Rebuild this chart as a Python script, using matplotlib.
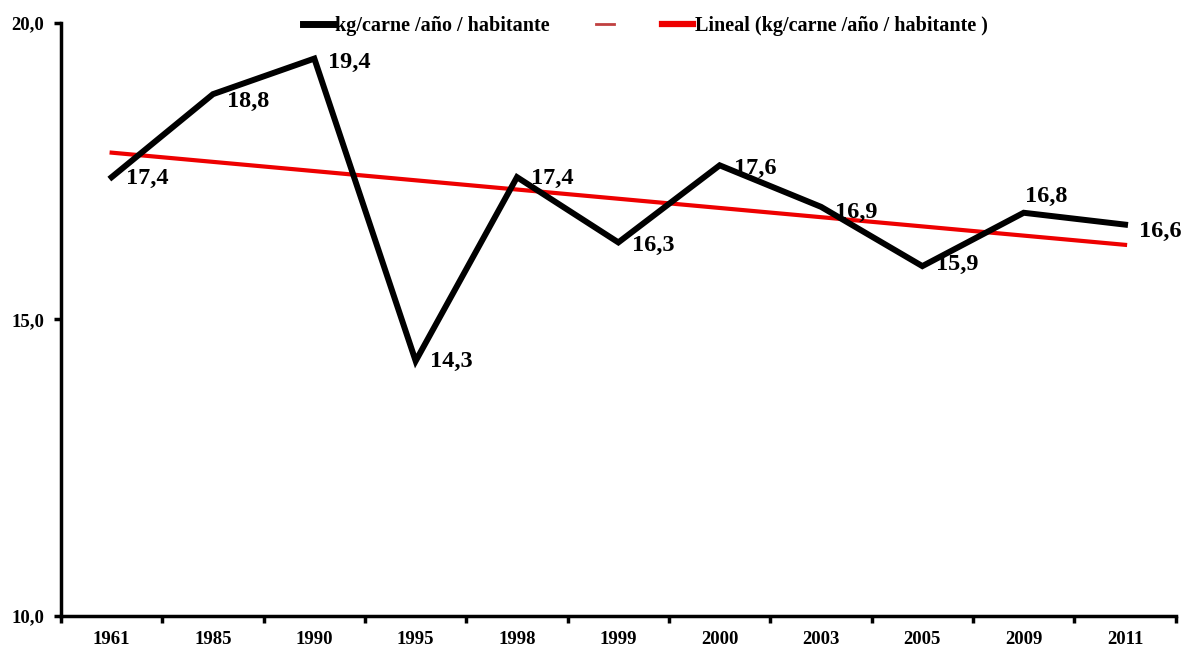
import numpy as np
import matplotlib.pyplot as plt
from matplotlib.lines import Line2D
from matplotlib.legend_handler import HandlerLine2D

# data
years = ['1961', '1985', '1990', '1995', '1998', '1999', '2000', '2003', '2005', '2009', '2011']
kg_carne = [17.4, 18.8, 19.4, 14.3, 17.4, 16.3, 17.6, 16.9, 15.9, 16.8, 16.6]
y_ticks = [10, 15, 20]

# label offsets in points (style only)
label_offsets = [(10, -1), (10, -5), (10, -3), (10, 0), (10, -1), (10, -2),
                 (10, -2), (10, -4), (10, 1), (1, 12), (10, -5)]

plt.rcParams['font.family'] = ['Liberation Serif', 'DejaVu Serif']
plt.rcParams['font.weight'] = 'bold'


class ShortLine(HandlerLine2D):
    # draws a shorter handle for the unlabeled legend entry
    def create_artists(self, legend, orig_handle, xdescent, ydescent,
                       width, height, fontsize, trans):
        return super().create_artists(legend, orig_handle, xdescent - width * 0.2,
                                      ydescent, width * 0.6, height, fontsize, trans)


fig = plt.figure(figsize=(11.84, 6.48), dpi=100)
ax = fig.add_axes([0.0515, 0.0494, 0.9415, 0.9151])

x = np.arange(1, len(years) + 1)
ax.plot(x, kg_carne, color='black', lw=4.3, solid_joinstyle='miter', zorder=3)

# linear trend
coef = np.polyfit(x, kg_carne, 1)
ax.plot(x, np.polyval(coef, x), color='#ee0000', lw=3, zorder=2)

for xi, v, off in zip(x, kg_carne, label_offsets):
    ax.annotate(f'{v:.1f}'.replace('.', ','), (xi, v), xytext=off,
                textcoords='offset points', fontsize=17.5, fontweight='bold',
                ha='left', va='center', zorder=4)

ax.set_xlim(0.5, len(years) + 0.5)
ax.set_ylim(10, 20)
ax.set_yticks(y_ticks)
ax.set_yticklabels([f'{t:.1f}'.replace('.', ',') for t in y_ticks], fontsize=13.5, fontweight='bold')
ax.set_xticks(x)
ax.set_xticklabels(years, fontsize=13.5, fontweight='bold')
ax.set_xticks(np.arange(0.5, len(years) + 1, 1), minor=True)
ax.tick_params(axis='x', which='major', length=0, pad=11)
ax.tick_params(axis='x', which='minor', length=5, width=2.5, direction='out')
ax.tick_params(axis='y', length=5, width=2.5, direction='out', pad=7)

for s in ['top', 'right']:
    ax.spines[s].set_visible(False)
for s in ['left', 'bottom']:
    ax.spines[s].set_linewidth(2.5)

thin = Line2D([], [], color='#c04040', lw=2)
handles = [Line2D([], [], color='black', lw=5),
           thin,
           Line2D([], [], color='#ee0000', lw=4.5)]
labels = ['kg/carne /año / habitante', '', 'Lineal (kg/carne /año / habitante )']
ax.legend(handles, labels, loc='center', bbox_to_anchor=(0.524, 0.995), ncol=3,
          frameon=False, handlelength=1.5, handletextpad=0.1,
          columnspacing=2.0, borderpad=0, prop={'weight': 'bold', 'size': 14.5},
          handler_map={thin: ShortLine()})

fig.savefig('out.png', dpi=100)
